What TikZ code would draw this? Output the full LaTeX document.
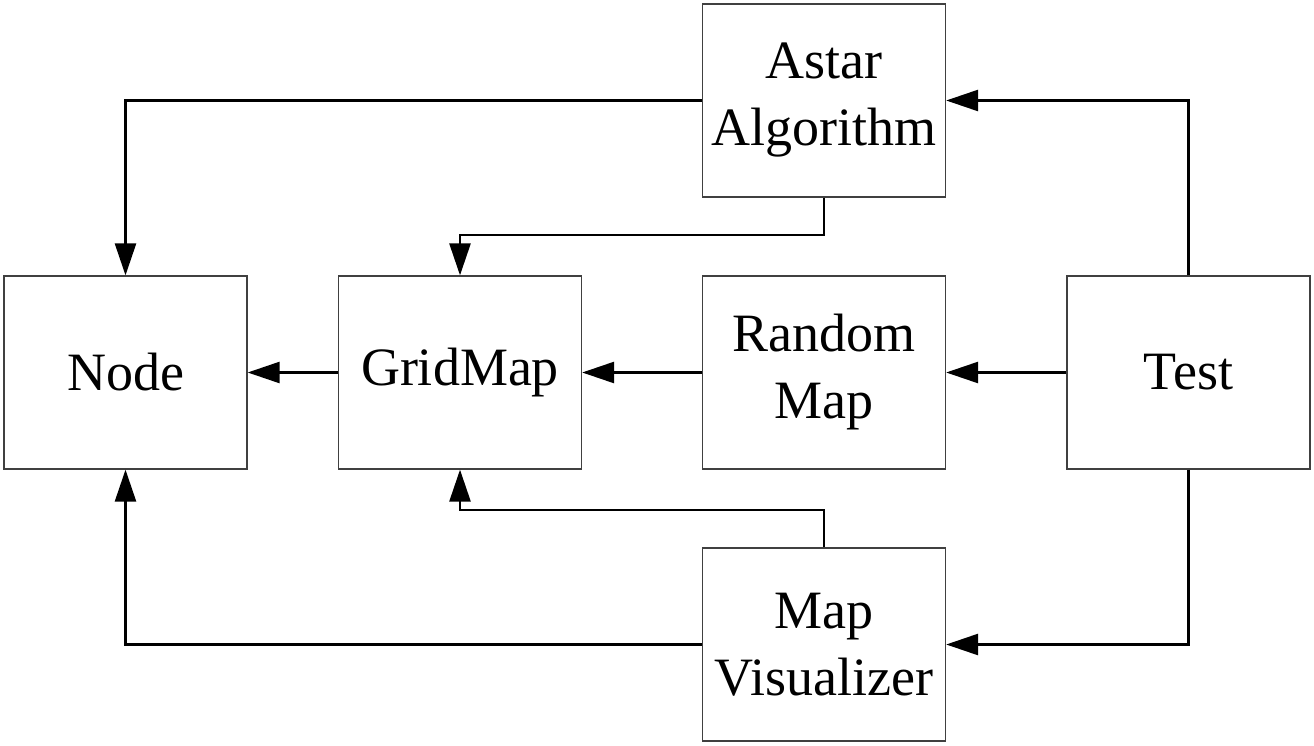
\documentclass[tikz,border=0pt]{standalone}
\usepackage{fontspec}
\setmainfont{Liberation Serif}
\usetikzlibrary{arrows.meta}
\begin{document}
\begin{tikzpicture}[x=1pt,y=-1pt,
  box/.style={draw=black!75,line width=1.3pt,minimum width=243pt,minimum height=193pt,
    inner sep=0pt,align=center,font=\fontsize{54}{67}\selectfont},
  twoline/.style={execute at begin node={\vspace*{9pt}}},
  arr/.style={line width=2.6pt,-{Triangle[length=32pt,width=21pt]}}]
\useasboundingbox (0,0) rectangle (1314,746);
\node[box] (node) at (125.5,372.5) {Node};
\node[box] (grid) at (460,372.5) {GridMap};
\node[box,twoline] (rmap) at (824,372.5) {Random\\Map};
\node[box] (test) at (1188.5,372.5) {Test};
\node[box,twoline] (astar) at (824,100.5) {Astar\\Algorithm};
\node[box,twoline] (mvis) at (824,644.5) {Map\\Visualizer};
\draw[arr] (astar.west) -| (node.north);
\draw[arr] (astar.south) -- (astar.south |- 0,235) -| (grid.north);
\draw[arr] (test.north) |- (astar.east);
\draw[arr] (test.west) -- (rmap.east);
\draw[arr] (rmap.west) -- (grid.east);
\draw[arr] (grid.west) -- (node.east);
\draw[arr] (test.south) |- (mvis.east);
\draw[arr] (mvis.west) -| (node.south);
\draw[arr] (mvis.north) -- (mvis.north |- 0,510) -| (grid.south);
\end{tikzpicture}
\end{document}
